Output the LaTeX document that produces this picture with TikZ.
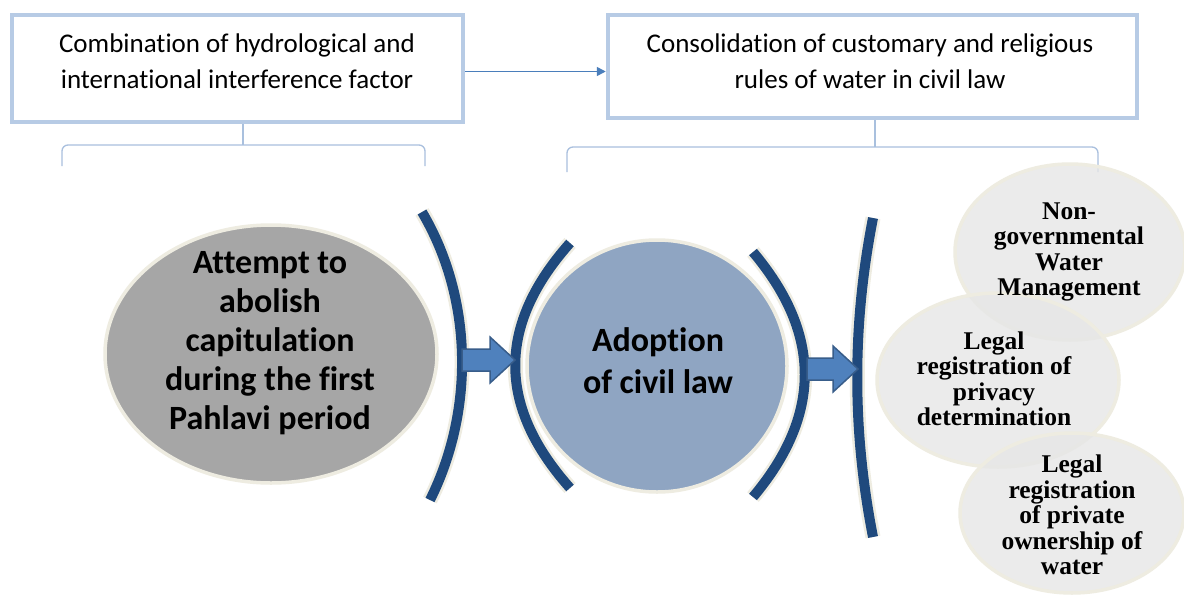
\documentclass[tikz,border=0pt]{standalone}
\usepackage{fontspec}
\setmainfont{Carlito}[Ligatures={NoCommon,NoContextual,NoRare}, Contextuals=NoAlternate]
\newfontfamily\serifbold{Liberation Serif}
\usetikzlibrary{shapes.geometric, arrows.meta}
\definecolor{boxblue}{HTML}{B7CBE5}
\definecolor{linkblue}{HTML}{4A7EBB}
\definecolor{braceblue}{HTML}{A9C0DE}
\definecolor{darkblue}{HTML}{1F497D}
\definecolor{beige}{HTML}{EEECE1}
\definecolor{grayfill}{HTML}{A6A6A6}
\definecolor{circfill}{HTML}{8FA5C2}
\definecolor{arrowfill}{HTML}{4F81BD}
\definecolor{arrowline}{HTML}{385D8A}
\definecolor{lightfill}{HTML}{E6E6E6}
\tikzset{
  topbox/.style={draw=boxblue, line width=4.5, rectangle, inner sep=0},
  toptext/.style={align=center, font=\fontsize{27}{36}\selectfont, inner sep=0},
  bigtext/.style={align=center, font=\fontsize{34}{39}\selectfont\bfseries, inner sep=0},
  midtext/.style={align=center, font=\fontsize{34}{42}\selectfont\bfseries, inner sep=0},
  smalltext/.style={align=center, font=\serifbold\fontsize{25.5}{25.5}\selectfont\bfseries, inner sep=0},
  brace/.style={draw=braceblue, line width=1.3},
  link/.style={draw=linkblue, line width=1.6, -{Triangle[length=9,width=9]}},
  bracketbg/.style={draw=beige, line width=15},
  bracketfg/.style={draw=darkblue, line width=10},
  blockarrow/.style={fill=arrowfill, draw=arrowline, line width=1.5},
  grayell/.style={ellipse, fill=grayfill, draw=beige, line width=3.5, inner sep=0},
  midcirc/.style={ellipse, fill=circfill, draw=beige, line width=3.5, inner sep=0},
  lightell/.style={ellipse, fill=lightfill, fill opacity=0.8, draw=beige, draw opacity=1, line width=3.5, inner sep=0},
}
\begin{document}
\begin{tikzpicture}[x=1pt,y=-1pt]
\useasboundingbox[fill=white] (0,0) rectangle (1184,595);

% top boxes
\node[topbox, minimum width=451, minimum height=107] (b1) at (237.5,68.5) {};
\node[toptext] (t1) at (237,61) {Combination of hydrological and\\international interference factor};
\node[topbox, minimum width=529, minimum height=103] (b2) at (872.5,66.5) {};
\node[toptext] (t2) at (870,61) {Consolidation of customary and religious\\rules of water in civil law};
\draw[link] ([yshift=-3]b1.east) -- ([yshift=-3]b2.west |- b1.east);

% braces
\coordinate (s1) at (243,145);
\draw[brace] (b1.south -| s1) -- (s1);
\draw[brace, rounded corners=6] (62,166) -- (62,145) -- (425,145) -- (425,166);
\coordinate (s2) at (875,147);
\draw[brace] (b2.south -| s2) -- (s2);
\draw[brace, rounded corners=6] (567,172) -- (567,147) -- (1098,147) -- (1098,172);

% gray ellipse
\node[grayell, minimum width=332, minimum height=258] (g) at (271,354) {};
\node[bigtext] (gt) at (270,343) {Attempt to\\abolish\\capitulation\\during the first\\Pahlavi period};

% middle circle
\node[midcirc, minimum width=260, minimum height=252] (c) at (657,366) {};
\node[midtext] (ct) at (658,361) {Adoption\\of civil law};

% right ellipses
\node[lightell, minimum width=230, minimum height=176] (ea) at (1070,252) {};
\node[lightell, minimum width=242, minimum height=174] (eb) at (998,380) {};
\node[lightell, minimum width=224, minimum height=160] (ec) at (1072,513) {};
\node[smalltext] (ta) at (1069,252) {Non-\\governmental\\Water\\Management};
\node[smalltext] (tb) at (994,379) {Legal\\registration of\\privacy\\determination};
\node[smalltext] (tc) at (1072,515) {Legal\\registration\\of private\\ownership of\\water};

% brackets
\draw[bracketbg] (422,212) .. controls (474,300) and (474,412) .. (430,500);
\draw[bracketfg] (422,212) .. controls (474,300) and (474,412) .. (430,500);
\draw[bracketbg] (570,243) .. controls (497,325) and (497,406) .. (570,488);
\draw[bracketfg] (570,243) .. controls (497,325) and (497,406) .. (570,488);
\draw[bracketbg] (753,252) .. controls (822,334) and (822,415) .. (753,497);
\draw[bracketfg] (753,252) .. controls (822,334) and (822,415) .. (753,497);
\draw[bracketbg] (873,218) .. controls (852,325) and (852,430) .. (873,537);
\draw[bracketfg] (873,218) .. controls (852,325) and (852,430) .. (873,537);

% block arrows
\draw[blockarrow] (462,349) -- (490,349) -- (490,337) -- (515,360) -- (490,383) -- (490,371) -- (462,371) -- cycle;
\draw[blockarrow] (807,358) -- (833,358) -- (833,346) -- (858,369) -- (833,392) -- (833,380) -- (807,380) -- cycle;
\end{tikzpicture}
\end{document}
